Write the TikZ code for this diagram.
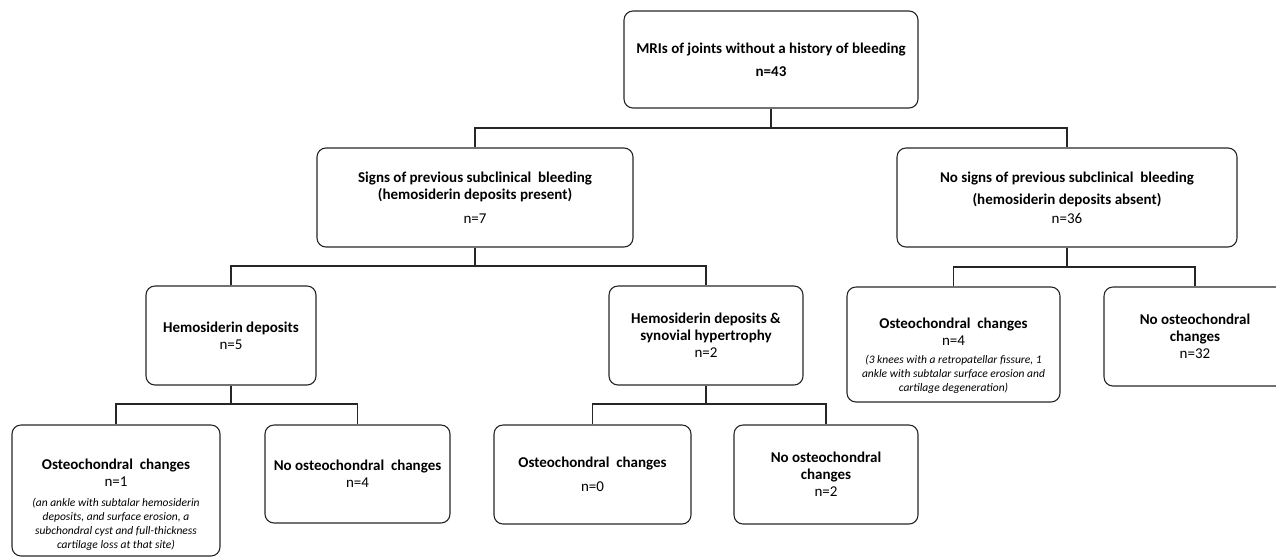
\documentclass[tikz,border=0pt]{standalone}
\usepackage{fontspec}
\setmainfont{Carlito}
\begin{document}
\begin{tikzpicture}[x=1pt,y=-1pt,
  box/.style={draw=black!85, line width=1.1pt, rounded corners=9pt, inner sep=0pt, align=center, text=black},
  txt/.style={inner sep=0pt, align=center, text=black},
  fa/.style={font=\fontsize{15}{17}\selectfont\bfseries},
  fb/.style={font=\fontsize{15}{17}\selectfont\bfseries},
  fi/.style={font=\fontsize{11.5}{14}\selectfont\itshape},
  link/.style={draw=black!85, line width=1.2pt}]
\useasboundingbox (0,0) rectangle (1276,558);
\clip (0,0) rectangle (1276,558);
% level 1
\node[box, fa, minimum width=294pt, minimum height=97pt] (top) at (771,59.5)
  {MRIs of joints without a history of bleeding\\[6pt] n=43};
% level 2
\node[box, fa, minimum width=316pt, minimum height=99pt] (l2a) at (475,197.5)
  {Signs of previous subclinical\ \ bleeding\\(hemosiderin deposits present)\\[7pt]\mdseries n=7};
\node[box, fa, minimum width=340pt, minimum height=99pt] (l2b) at (1067,197.5)
  {No signs of previous subclinical\ \ bleeding\\[5pt](hemosiderin deposits absent)\\[2pt]\mdseries n=36};
% level 3
\node[box, fb, minimum width=170pt, minimum height=99pt] (l3a) at (231,335.5)
  {Hemosiderin deposits\\\mdseries n=5};
\node[box, fb, minimum width=194pt, minimum height=99pt] (l3b) at (706,335.5)
  {Hemosiderin deposits \&\\synovial hypertrophy\\\mdseries n=2};
\node[box, minimum width=213pt, minimum height=115pt] (l3c) at (953.5,344.5) {};
\node[txt, fb] (l3ct) at (953.5,331.5) {Osteochondral\ \ changes\\\mdseries n=4};
\node[txt, fi] (l3ci) at (953.5,374)
  {(3 knees with a retropatellar fissure, 1\\ankle with subtalar surface erosion and\\cartilage degeneration)};
\node[box, fb, minimum width=182pt, minimum height=99pt] (l3d) at (1195,336.5)
  {No osteochondral\\changes\\\mdseries n=32};
% level 4
\node[box, minimum width=208pt, minimum height=131pt] (l4a) at (116,490.5) {};
\node[txt, fb] (l4at) at (116,473) {Osteochondral\ \ changes\\\mdseries n=1};
\node[txt, fi] (l4ai) at (116,524)
  {(an ankle with subtalar hemosiderin\\deposits, and surface erosion, a\\subchondral cyst and full-thickness\\cartilage loss at that site)};
\node[box, fb, minimum width=185pt, minimum height=98pt] (l4b) at (357.5,474)
  {No osteochondral\ \ changes\\\mdseries n=4};
\node[box, fb, minimum width=197pt, minimum height=99pt] (l4c) at (592.5,474.5)
  {Osteochondral\ \ changes\\[7pt]\mdseries n=0};
\node[box, fb, minimum width=184pt, minimum height=99pt] (l4d) at (826,474.5)
  {No osteochondral\\changes\\\mdseries n=2};
% connectors
\coordinate (j1) at (771,128);
\coordinate (j2) at (475,266);
\coordinate (j3) at (1067,267);
\coordinate (j4) at (231,404);
\coordinate (j5) at (706,404);
\draw[link] (top.south) -- (j1);
\draw[link] (l2a.north) |- (j1) -| (l2b.north);
\draw[link] (l2a.south) -- (j2);
\draw[link] (l3a.north) |- (j2) -| (l3b.north);
\draw[link] (l2b.south) -- (j3);
\draw[link] (l3c.north) |- (j3) -| (l3d.north);
\draw[link] (l3a.south) -- (j4);
\draw[link] (l4a.north) |- (j4) -| (l4b.north);
\draw[link] (l3b.south) -- (j5);
\draw[link] (l4c.north) |- (j5) -| (l4d.north);
\end{tikzpicture}
\end{document}
